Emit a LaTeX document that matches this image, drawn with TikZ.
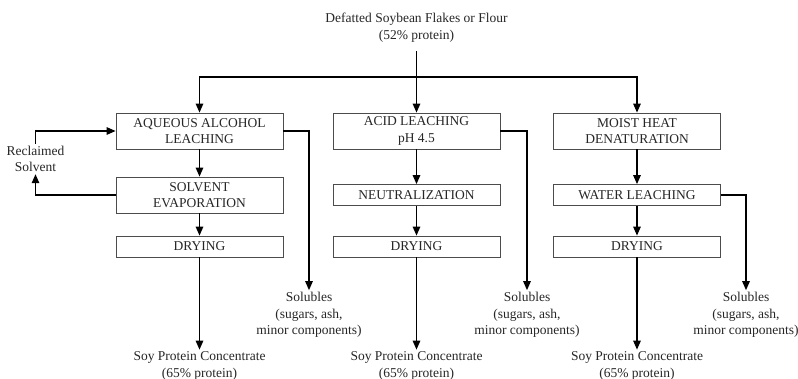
\documentclass[tikz,border=0pt]{standalone}
\usepackage{fontspec}
\setmainfont{Liberation Serif}
\usepackage{tikz}
\usepackage{xcolor}
\usetikzlibrary{arrows.meta}
\usetikzlibrary{positioning}

\begin{document}
\begin{tikzpicture}
  [
    x = 1pt, y = -1pt,
    node distance = 64pt,
    every node/.style = {font = \fontsize{13.5}{16.5}\selectfont, text = black!85},
    box/.style = {rectangle, draw = black!70, line width = 0.8pt,
                  minimum width = 167pt, minimum height = 21pt,
                  inner sep = 2pt, align = center},
    tallbox/.style = {box, minimum height = 36pt},
    note/.style = {rectangle, inner sep = 2pt, align = center},
    arrow/.style = {> = {Triangle[length = 9pt, width = 7.5pt]}, line width = 1.3pt},
    arrow-out/.style = {arrow, ->},
    arrow-in/.style = {arrow, <-},
  ]
  \useasboundingbox (0,0) rectangle (798,379);
  \node[note] (flour) at (416.5,27.5) {Defatted Soybean Flakes or Flour\\(52\% protein)};
  \coordinate (split) at (416.5,77);

  \node[tallbox] (alcohol) at (199.5,131) {AQUEOUS ALCOHOL\\LEACHING};
  \node[tallbox] [below of = alcohol] (evap) {SOLVENT\\EVAPORATION}
      edge [arrow-in] (alcohol);
  \node[box] [below of = evap, yshift = 12.5pt] (dry_alcohol) {DRYING}
      edge [arrow-in] (evap);
  \node[note] [below of = dry_alcohol, yshift = -55.5pt] (spc_alcohol) {Soy Protein Concentrate\\(65\% protein)}
      edge [arrow-in] (dry_alcohol);
  \node[note] (sol_alcohol) at (309,315) {Solubles\\(sugars, ash,\\minor components)};
  \node[note] (reclaim) at (35.5,159) {Reclaimed\\Solvent};

  \node[tallbox] [right of = alcohol, node distance = 217pt] (acid) {ACID LEACHING\\pH 4.5};
  \node[box] [below of = acid] (neutral) {NEUTRALIZATION}
      edge [arrow-in] (acid);
  \node[box] [below of = neutral, yshift = 12.5pt] (dry_acid) {DRYING}
      edge [arrow-in] (neutral);
  \node[note] [below of = dry_acid, yshift = -55.5pt] (spc_acid) {Soy Protein Concentrate\\(65\% protein)}
      edge [arrow-in] (dry_acid);
  \node[note] (sol_acid) at (527,315) {Solubles\\(sugars, ash,\\minor components)};

  \node[tallbox] [right of = acid, node distance = 220.5pt] (moist) {MOIST HEAT\\DENATURATION};
  \node[box] [below of = moist] (water) {WATER LEACHING}
      edge [arrow-in] (moist);
  \node[box] [below of = water, yshift = 12.5pt] (dry_moist) {DRYING}
      edge [arrow-in] (water);
  \node[note] [below of = dry_moist, yshift = -55.5pt] (spc_moist) {Soy Protein Concentrate\\(65\% protein)}
      edge [arrow-in] (dry_moist);
  \node[note] (sol_water) at (746,315) {Solubles\\(sugars, ash,\\minor components)};

  \draw[arrow-out, shorten <= 7pt] (flour.south) -- (acid.north);
  \draw[arrow-out] (split) -| (alcohol.north);
  \draw[arrow-out] (split) -| (moist.north);
  \draw[arrow-out] (alcohol.east) -| (sol_alcohol.north);
  \draw[arrow-out] (acid.east) -| (sol_acid.north);
  \draw[arrow-out] (water.east) -| (sol_water.north);
  \draw[arrow-out] (evap.west) -| (reclaim.south);
  \draw[arrow-out] (reclaim.north) |- (alcohol.west);
\end{tikzpicture}
\end{document}
